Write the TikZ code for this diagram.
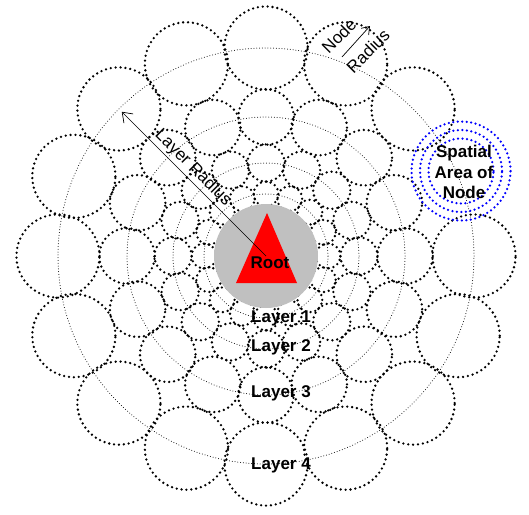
\documentclass[tikz,border=0pt]{standalone}
\usepackage{fontspec}
\setmainfont{Liberation Sans}
\usetikzlibrary{calc,arrows.meta}
\definecolor{rootgray}{RGB}{192,192,192}
\begin{document}
\begin{tikzpicture}[x=1pt,y=-1pt,
  ring/.style={line width=1pt, dash pattern=on 0pt off 2.8pt, line cap=round},
  nodecirc/.style={line width=2.6pt, dash pattern=on 0pt off 4.9pt, line cap=round},
  bluecirc/.style={blue, line width=2.5pt, dash pattern=on 0pt off 4.5pt, line cap=round},
  lbl/.style={font=\bfseries\fontsize{17}{20.5}\selectfont, inner sep=0pt, align=center},
  thinlbl/.style={font=\fontsize{17}{20}\selectfont, inner sep=0pt},
  arr/.style={line width=0.7pt, -{Straight Barb[length=9pt,width=13pt]}}
]
\useasboundingbox (0,0) rectangle (529,514);
\coordinate (c) at (266,256);
% layer rings
\foreach \R in {62,93,139,208} {
  \draw[ring] (c) circle[radius=\R pt];
}
% node circles of layers 1-3
\foreach \R/\r in {62/12.4, 93/18.6, 139/27.8} {
  \foreach \a in {0,22.5,...,337.5} {
    \draw[nodecirc] ($(c)+(\a:\R pt)$) circle[radius=\r pt];
  }
}
% layer 4 node circles (the one at 22.5 deg is the blue one)
\foreach \a in {0,45,67.5,...,337.5} {
  \draw[nodecirc] ($(c)+(\a:208pt)$) circle[radius=41.6pt];
}
% blue spatial area node
\coordinate (bl) at (461,171);
\foreach \r in {32.5,41,49.5} {
  \draw[bluecirc] (bl) circle[radius=\r pt];
}
\node[lbl] (spatial) at (464,172) {Spatial\\Area of\\Node};
% root
\fill[rootgray] (c) circle[radius=52pt];
\fill[red] (267,213) -- (236,283) -- (297,283) -- cycle;
\node[lbl] (root) at (270,263) {Root};
% layer radius arrow
\coordinate (lr) at ($(c)+(135:204pt)$);
\draw[arr] (c) -- (lr);
\node[thinlbl, rotate=-45] (lrlabel) at (193,168) {Layer Radius};
% node radius arrow
\coordinate (nr0) at (342,57);
\coordinate (nr1) at (370,26);
\draw[arr, -{Straight Barb[length=7pt,width=10pt]}] (nr0) -- (nr1);
\node[thinlbl, rotate=45] (nodelbl) at (339,36) {Node};
\node[thinlbl, rotate=45] (radlbl) at (368,51) {Radius};
% layer labels
\node[lbl] (l1) at (281,318) {Layer 1};
\node[lbl] (l2) at (281,347) {Layer 2};
\node[lbl] (l3) at (281,393) {Layer 3};
\node[lbl] (l4) at (281,465) {Layer 4};
\end{tikzpicture}
\end{document}
